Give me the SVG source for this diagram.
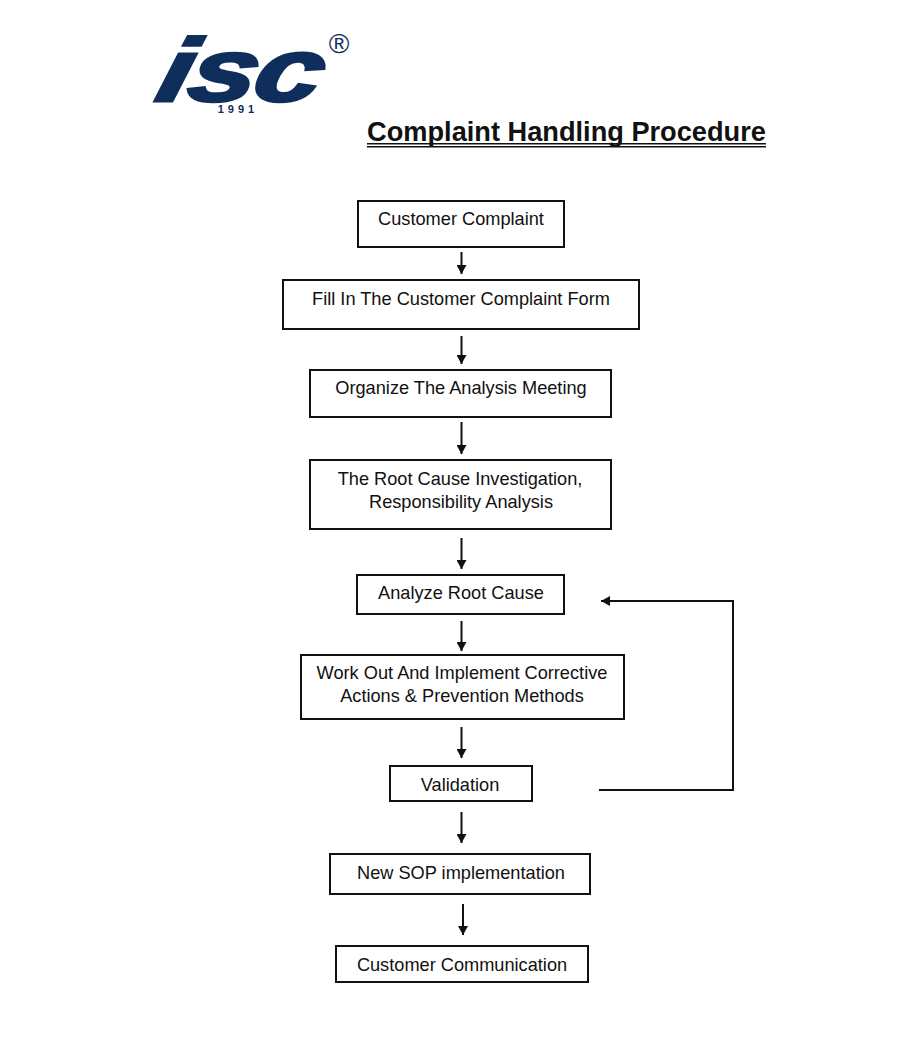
<svg xmlns="http://www.w3.org/2000/svg" width="900" height="1045" viewBox="0 0 900 1045">
<style>
text{font-family:"Liberation Sans",Arial,sans-serif;fill:#111}
.n{fill:#fff;stroke:#111;stroke-width:2}
.l{font-size:18.2px;text-anchor:middle}
.c{fill:none;stroke:#111;stroke-width:2}
</style>
<defs><marker id="a" markerUnits="userSpaceOnUse" markerWidth="11" markerHeight="10" refX="9" refY="5" orient="auto"><path d="M0 0L9 5L0 10Z" fill="#111"/></marker></defs>
<rect width="900" height="1045" fill="#fff"/>
<g id="logo">
<text transform="translate(153 101) skewX(-14) scale(1.27 .93)" font-size="96" font-weight="700" font-style="italic" stroke="#0f2e5c" stroke-width="3" style="fill:#0f2e5c;letter-spacing:-2px">isc</text>
<text x="238" y="113" font-size="11" font-weight="700" text-anchor="middle" style="fill:#0f2e5c;letter-spacing:4px">1991</text>
<text x="339" y="53" font-size="28" text-anchor="middle" style="fill:#0f2e5c">®</text>
</g>
<g id="title">
<text x="566.500" y="141" font-size="27.2" font-weight="700" text-anchor="middle">Complaint Handling Procedure</text>
<path d="M367 143.800H766M367 146.800H766" stroke="#111" stroke-width="1.500" fill="none"/>
</g>
<g id="connectors">
<path class="c" marker-end="url(#a)" d="M461.500 252V274"/>
<path class="c" marker-end="url(#a)" d="M461.500 336V364"/>
<path class="c" marker-end="url(#a)" d="M461.500 422V454"/>
<path class="c" marker-end="url(#a)" d="M461.500 538V569"/>
<path class="c" marker-end="url(#a)" d="M461.500 621V651"/>
<path class="c" marker-end="url(#a)" d="M461.500 727V758"/>
<path class="c" marker-end="url(#a)" d="M461.500 812V843"/>
<path class="c" marker-end="url(#a)" d="M463 904V935"/>
<path class="c" marker-end="url(#a)" d="M599 790H733V601H601"/>
</g>
<g id="n1"><rect class="n" x="358" y="201" width="206" height="46"/><text class="l" x="461" y="225">Customer Complaint</text></g>
<g id="n2"><rect class="n" x="283" y="280" width="356" height="49"/><text class="l" x="461" y="305">Fill In The Customer Complaint Form</text></g>
<g id="n3"><rect class="n" x="310" y="370" width="301" height="47"/><text class="l" x="461" y="394">Organize The Analysis Meeting</text></g>
<g id="n4"><rect class="n" x="310" y="460" width="301" height="69"/><text class="l" x="460" y="485">The Root Cause Investigation,</text><text class="l" x="461" y="508">Responsibility Analysis</text></g>
<g id="n5"><rect class="n" x="357" y="575" width="207" height="39"/><text class="l" x="461" y="599">Analyze Root Cause</text></g>
<g id="n6"><rect class="n" x="301" y="655" width="323" height="64"/><text class="l" x="462" y="679">Work Out And Implement Corrective</text><text class="l" x="462" y="702">Actions &amp; Prevention Methods</text></g>
<g id="n7"><rect class="n" x="390" y="766" width="142" height="35"/><text class="l" x="460" y="791">Validation</text></g>
<g id="n8"><rect class="n" x="330" y="854" width="260" height="40"/><text class="l" x="461" y="879">New SOP implementation</text></g>
<g id="n9"><rect class="n" x="336" y="946" width="252" height="36"/><text class="l" x="462" y="971">Customer Communication</text></g>
</svg>
